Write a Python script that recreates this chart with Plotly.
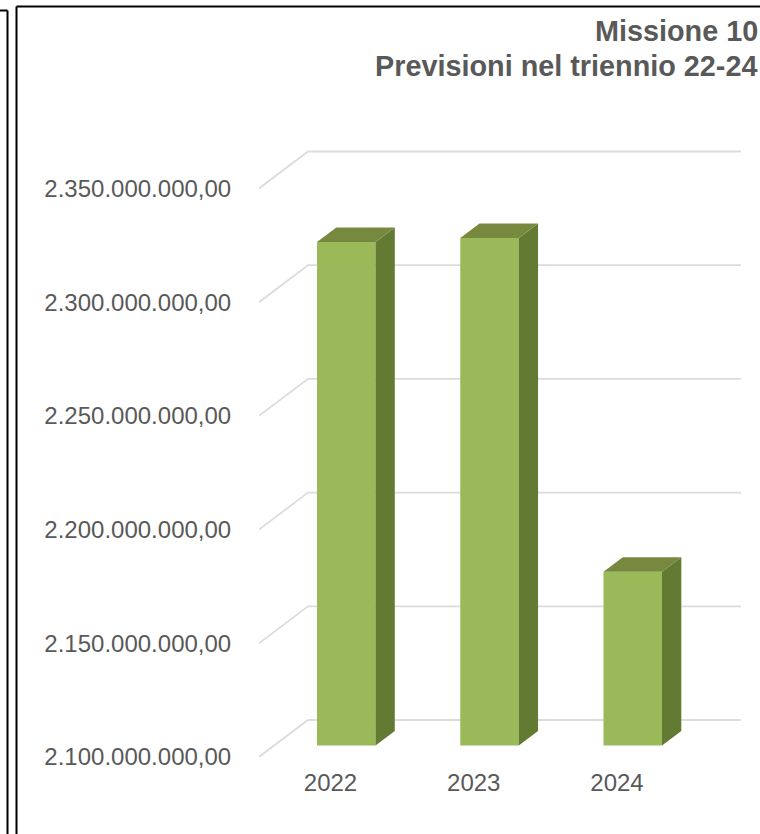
import plotly.graph_objects as go

# Data
years = [2022, 2023, 2024]
values = [2321500000, 2323200000, 2176500000]
tick_values = [2100000000, 2150000000, 2200000000, 2250000000, 2300000000, 2350000000]
title_lines = ["Missione 10", "Previsioni nel triennio 22-24"]

# Geometry of the picture (page pixels)
W, H = 760, 834
L, R, T, B = 259, 741, 140, 757
PX_PER_VALUE = 113.7 / 50000000
PX_PER_YEAR = 143.25
YEAR0_PX = 330.5
BAR_FLOOR_SHIFT = 11.4
BAR_LEFT_PX, BAR_W_PX = 317, 58.5
DEPTH_X, DEPTH_Y = 19.3, 14.5
WALL_X, WALL_Y = 49, 37

FRONT, SIDE, TOP = "#9ABA59", "#637A33", "#76893F"
GRID, TEXT = "#DCDCDC", "#595959"
FONT = "Liberation Sans"

v0 = tick_values[0]
val_per_px = 1 / PX_PER_VALUE
yr_per_px = 1 / PX_PER_YEAR
x_range = [years[0] + (L - YEAR0_PX) * yr_per_px, years[0] + (R - YEAR0_PX) * yr_per_px]
y_range = [v0, v0 + (B - T) * val_per_px]
shift = BAR_FLOOR_SHIFT * val_per_px
y2_range = [y_range[0] - shift, y_range[1] - shift]

fig = go.Figure()

# Gridlines: diagonal on the side wall, then along the back wall
for v in tick_values:
    fig.add_trace(go.Scatter(
        x=[x_range[0], x_range[0] + WALL_X * yr_per_px, x_range[1]],
        y=[v, v + WALL_Y * val_per_px, v + WALL_Y * val_per_px],
        mode="lines", line=dict(color=GRID, width=1.8),
        hoverinfo="skip", showlegend=False))

dx = DEPTH_X * yr_per_px
dy = DEPTH_Y * val_per_px
bw = BAR_W_PX * yr_per_px
offset_year = (BAR_LEFT_PX - YEAR0_PX) * yr_per_px

# Front faces
fig.add_trace(go.Bar(
    x=years, y=[v - v0 for v in values], base=v0,
    width=bw, offset=offset_year, yaxis="y2",
    marker=dict(color=FRONT, line=dict(width=0)), showlegend=False))

# Side and top faces
for yr, v in zip(years, values):
    x0 = yr + offset_year
    x1 = x0 + bw
    fig.add_trace(go.Scatter(
        x=[x1, x1 + dx, x1 + dx, x1, x1],
        y=[v0, v0 + dy, v + dy, v, v0],
        mode="lines", fill="toself", fillcolor=SIDE, line=dict(width=0),
        yaxis="y2", hoverinfo="skip", showlegend=False))
    fig.add_trace(go.Scatter(
        x=[x0, x1, x1 + dx, x0 + dx, x0],
        y=[v, v, v + dy, v + dy, v],
        mode="lines", fill="toself", fillcolor=TOP, line=dict(width=0),
        yaxis="y2", hoverinfo="skip", showlegend=False))

def px_x(p):
    return (p - L) / (R - L)

def px_y(p):
    return (B - p) / (B - T)

annotations = [
    dict(text="<b>%s</b>" % title_lines[0], xref="paper", yref="paper",
         x=px_x(760), y=px_y(31), xanchor="right", yanchor="middle", showarrow=False,
         font=dict(family=FONT, size=28.8, color=TEXT)),
    dict(text="<b>%s</b>" % title_lines[1], xref="paper", yref="paper",
         x=px_x(760), y=px_y(65.5), xanchor="right", yanchor="middle", showarrow=False,
         font=dict(family=FONT, size=28.8, color=TEXT)),
]

frame = dict(type="line", xref="paper", yref="paper", line=dict(color="#000000", width=2))
shapes = [
    dict(frame, x0=px_x(7.5), x1=px_x(7.5), y0=px_y(10.5), y1=px_y(H + 5)),
    dict(frame, x0=px_x(-5), x1=px_x(7.5), y0=px_y(10.5), y1=px_y(10.5)),
    dict(frame, x0=px_x(16.5), x1=px_x(16.5), y0=px_y(6.5), y1=px_y(H + 5)),
    dict(frame, x0=px_x(16.5), x1=px_x(W + 5), y0=px_y(6.5), y1=px_y(6.5)),
]

fig.update_layout(
    width=W, height=H, autosize=False,
    margin=dict(l=L, r=W - R, t=T, b=H - B, pad=0),
    paper_bgcolor="#FFFFFF", plot_bgcolor="#FFFFFF",
    separators=",.", showlegend=False, barmode="overlay",
    font=dict(family=FONT, color=TEXT, size=24),
    annotations=annotations, shapes=shapes,
    xaxis=dict(range=x_range, tickvals=years, tickformat="d", showgrid=False,
               zeroline=False, showline=False, ticks="outside", ticklen=4,
               tickcolor="rgba(0,0,0,0)", tickfont=dict(size=24, color=TEXT)),
    yaxis=dict(range=y_range, tickvals=tick_values, tickformat=",.2f", showgrid=False,
               zeroline=False, showline=False, ticks="outside", ticklen=22,
               tickcolor="rgba(0,0,0,0)", tickfont=dict(size=24, color=TEXT)),
    yaxis2=dict(range=y2_range, overlaying="y", visible=False),
)

fig.write_html("out.html", config={"displayModeBar": False},
               post_script="document.body.style.margin='0';document.body.style.overflow='hidden';")
